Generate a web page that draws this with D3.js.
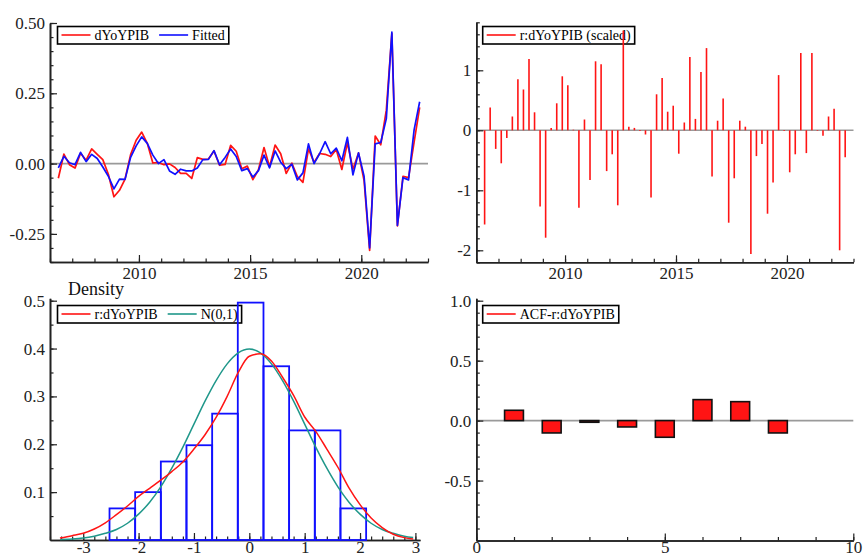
<!DOCTYPE html>
<html>
<head>
<meta charset="utf-8">
<script src="https://cdn.jsdelivr.net/npm/d3@7/dist/d3.min.js"></script>
<style>
  html, body { margin: 0; padding: 0; background: #fff; }
  svg { display: block; font-family: "Liberation Serif", "Times New Roman", serif; }
  svg text { font-family: "Liberation Serif", "Times New Roman", serif; }
</style>
</head>
<body>
<svg id="chart" width="864" height="558"></svg>
<script>
// ---------- data: quarterly sample 2006Q2 .. 2022Q3 ----------
const firstYear = 2006;
const firstQuarter = 2;

// change in year-on-year GDP growth
const actual = [
  -0.052, 0.034, -0.004, -0.016, 0.037, 0.012, 0.052, 0.033, 0.014, -0.038,
  -0.118, -0.095, -0.055, 0.032, 0.083, 0.112, 0.072, 0.002, 0.004, -0.004,
  -0.001, -0.014, -0.035, -0.035, -0.053, 0.021, 0.015, 0.016, 0.045, -0.006,
  -0.003, 0.065, 0.044, -0.018, -0.009, -0.057, -0.022, 0.057, -0.011, 0.066,
  0.035, -0.035, 0.002, -0.046, -0.067, 0.052, 0.004, 0.036, 0.033, 0.025,
  0.050, -0.021, 0.074, -0.020, 0.038, -0.060, -0.309, 0.098, 0.067, 0.190,
  0.462, -0.222, -0.045, -0.050, 0.076, 0.200
];

// fitted values of the model
const fitted = [
  -0.015, 0.026, 0.003, -0.004, 0.040, 0.007, 0.033, 0.018, -0.012, -0.045,
  -0.090, -0.055, -0.056, 0.022, 0.063, 0.095, 0.072, 0.030, 0.000, 0.014,
  -0.026, -0.038, -0.020, -0.026, -0.026, -0.016, 0.014, 0.015, 0.046, -0.004,
  0.022, 0.052, 0.025, -0.025, -0.018, -0.048, -0.025, 0.030, -0.015, 0.045,
  0.005, -0.018, -0.002, -0.058, -0.033, 0.070, 0.000, 0.035, 0.078, 0.035,
  0.055, 0.010, 0.093, -0.040, 0.038, -0.045, -0.300, 0.070, 0.075, 0.160,
  0.468, -0.220, -0.050, -0.058, 0.120, 0.220
];

// scaled residuals
const residScaled = [
  -1.57, 0.38, -0.31, -0.55, -0.13, 0.23, 0.85, 0.68, 1.19, 0.30,
  -1.27, -1.79, 0.04, 0.45, 0.90, 0.75, 0.01, -1.29, 0.18, -0.83,
  1.15, 1.10, -0.68, -0.40, -1.25, 1.66, 0.06, 0.04, -0.01, -0.07,
  -1.12, 0.60, 0.87, 0.31, 0.41, -0.39, 0.13, 1.22, 0.19, 0.97,
  1.37, -0.77, 0.16, 0.53, -1.54, -0.80, 0.16, 0.06, -2.06, -0.43,
  -0.23, -1.39, -0.87, 0.92, -0.01, -0.70, -0.40, 1.29, -0.38, 1.29,
  -0.01, -0.09, 0.23, 0.36, -2.00, -0.45
];

// histogram of residuals (density scale)
const histEdges = [-2.525, -2.062, -1.598, -1.135, -0.671, -0.208, 0.256, 0.719, 1.183, 1.646, 2.110];
const histDensity = [0.066, 0.100, 0.164, 0.198, 0.264, 0.496, 0.363, 0.229, 0.229, 0.066];

// kernel density estimate of residuals
const kernelX = [-3.42, -3.2, -3.0, -2.8, -2.6, -2.4, -2.2, -2.0, -1.8, -1.6, -1.4, -1.2, -1.0, -0.8, -0.6, -0.4, -0.2,
  0.0, 0.2, 0.4, 0.6, 0.8, 1.0, 1.2, 1.4, 1.6, 1.8, 2.0, 2.2, 2.4, 2.6, 2.8, 2.96];
const kernelY = [0.004, 0.009, 0.014, 0.023, 0.036, 0.053, 0.071, 0.091, 0.108, 0.125, 0.143, 0.163, 0.190, 0.220, 0.256, 0.300, 0.350,
  0.384, 0.389, 0.374, 0.340, 0.302, 0.257, 0.227, 0.190, 0.152, 0.109, 0.074, 0.046, 0.026, 0.012, 0.005, 0.002];

// reference N(0,1) density
const normalX = [-3.42, -3.2, -3.0, -2.8, -2.6, -2.4, -2.2, -2.0, -1.8, -1.6, -1.4, -1.2, -1.0, -0.8, -0.6, -0.4, -0.2,
  0.0, 0.2, 0.4, 0.6, 0.8, 1.0, 1.2, 1.4, 1.6, 1.8, 2.0, 2.2, 2.4, 2.6, 2.8, 2.96];
const normalY = [0.001, 0.002, 0.004, 0.008, 0.014, 0.022, 0.035, 0.054, 0.079, 0.111, 0.150, 0.194, 0.242, 0.290, 0.333, 0.368, 0.391,
  0.399, 0.391, 0.368, 0.333, 0.290, 0.242, 0.194, 0.150, 0.111, 0.079, 0.054, 0.035, 0.022, 0.014, 0.008, 0.005];

// autocorrelation of residuals
const acfLags = [1, 2, 3, 4, 5, 6, 7, 8];
const acfValues = [0.086, -0.103, -0.014, -0.053, -0.139, 0.175, 0.158, -0.103];

// tick values
const yearMajor = [2010, 2015, 2020];
const yearMinor = d3.range(2006, 2024, 1);
const tlMajor = [-0.25, 0, 0.25, 0.5];
const trMajor = [-2, -1, 0, 1];
const blXMajor = [-3, -2, -1, 0, 1, 2, 3];
const blYMajor = [0.1, 0.2, 0.3, 0.4, 0.5];
const brXMajor = [0, 5, 10];
const brYMajor = [-0.5, 0, 0.5, 1.0];

// ---------- styling ----------
const RED = "#ff1414", BLUE = "#1010ff", TEAL = "#1f978a", AXIS = "#222", ZERO = "#9a9a9a";
const SERIF = "Liberation Serif, Times New Roman, serif";
const TICK_FONT = 17, LEGEND_FONT = 14;

const svg = d3.select("#chart");
const quarterPos = actual.map((_, i) => {
  const q = firstQuarter - 1 + i;
  return firstYear + Math.floor(q / 4) + ((q % 4) + 0.5) / 4;
});

// axes with inward ticks: long at majors, short at minors
function drawAxes(g, x, y, o) {
  const styleAxis = sel => {
    sel.attr("font-family", SERIF).attr("font-size", TICK_FONT);
    sel.select(".domain").attr("stroke", AXIS).attr("stroke-width", 1.6);
    sel.selectAll(".tick line").attr("stroke", AXIS).attr("stroke-width", 1.2);
    sel.selectAll("text").attr("fill", AXIS).style("font-family", SERIF).style("font-size", TICK_FONT + "px");
  };
  const y0 = y.range()[0], x0 = x.range()[0];
  g.append("g").attr("transform", `translate(0,${y0})`)
    .call(d3.axisBottom(x).tickValues(o.xMinor).tickSize(-3.5).tickSizeOuter(0).tickFormat(""))
    .call(styleAxis);
  g.append("g").attr("transform", `translate(0,${y0})`)
    .call(d3.axisBottom(x).tickValues(o.xMajor).tickSize(-7).tickSizeOuter(0).tickPadding(o.xPad).tickFormat(o.xFmt))
    .call(styleAxis);
  g.append("g").attr("transform", `translate(${x0},0)`)
    .call(d3.axisLeft(y).tickValues(o.yMinor).tickSize(-3.5).tickSizeOuter(0).tickFormat(""))
    .call(styleAxis);
  g.append("g").attr("transform", `translate(${x0},0)`)
    .call(d3.axisLeft(y).tickValues(o.yMajor).tickSize(-7).tickSizeOuter(0).tickPadding(5).tickFormat(o.yFmt))
    .call(styleAxis);
}

function zeroLine(g, x, y) {
  g.append("line")
    .attr("x1", x.range()[0]).attr("x2", x.range()[1])
    .attr("y1", y(0)).attr("y2", y(0))
    .attr("stroke", ZERO).attr("stroke-width", 1.6);
}

function legend(g, left, top, items) {
  const box = g.append("rect").attr("x", left).attr("y", top).attr("height", 17.5)
    .attr("fill", "#fff").attr("stroke", "#000").attr("stroke-width", 1.6);
  let cx = left + 4;
  items.forEach((it, k) => {
    if (k > 0) cx += 10;
    g.append("line").attr("x1", cx).attr("x2", cx + 29)
      .attr("y1", top + 8.5).attr("y2", top + 8.5)
      .attr("stroke", it.color).attr("stroke-width", 1.6);
    cx += 33;
    const t = g.append("text").attr("x", cx).attr("y", top + 13.5)
      .style("font-family", SERIF).style("font-size", LEGEND_FONT + "px")
      .attr("fill", "#000").text(it.label);
    cx += t.node().getComputedTextLength();
  });
  box.attr("width", cx + 4 - left);
}

const fmt2 = d3.format(".2f"), fmt1 = d3.format(".1f");
const minus = s => s.replace("−", "-");

// ---------- panel 1: actual vs fitted ----------
{
  const g = svg.append("g");
  const x = d3.scaleLinear().domain([2006, 2023]).range([50, 428]);
  const y = d3.scaleLinear().domain([-0.35, 0.5]).range([262, 23]);
  zeroLine(g, x, y);
  drawAxes(g, x, y, {
    xMajor: yearMajor, xMinor: yearMinor, xFmt: d3.format("d"), xPad: 5,
    yMajor: tlMajor, yMinor: d3.range(-0.35, 0.5001, 0.05), yFmt: d => minus(fmt2(d))
  });
  legend(g, 57.5, 26.5, [{ label: "dYoYPIB", color: RED }, { label: "Fitted", color: BLUE }]);
  const line = arr => d3.line().x((_, i) => x(quarterPos[i])).y(d => y(d))(arr);
  g.append("path").attr("d", line(actual)).attr("fill", "none")
    .attr("stroke", RED).attr("stroke-width", 1.7).attr("stroke-linejoin", "round");
  g.append("path").attr("d", line(fitted)).attr("fill", "none")
    .attr("stroke", BLUE).attr("stroke-width", 1.7).attr("stroke-linejoin", "round");
}

// ---------- panel 2: scaled residuals ----------
{
  const g = svg.append("g");
  const x = d3.scaleLinear().domain([2006, 2023]).range([476.3, 853.5]);
  const y = d3.scaleLinear().domain([-2.2, 1.8]).range([262.3, 22.3]);
  zeroLine(g, x, y);
  drawAxes(g, x, y, {
    xMajor: yearMajor, xMinor: yearMinor, xFmt: d3.format("d"), xPad: 5,
    yMajor: trMajor, yMinor: d3.range(-2.2, 1.8001, 0.2), yFmt: d => minus(d3.format("d")(d))
  });
  legend(g, 482.7, 26.5, [{ label: "r:dYoYPIB (scaled)", color: RED }]);
  g.selectAll("line.spike").data(residScaled).join("line").attr("class", "spike")
    .attr("x1", (_, i) => x(quarterPos[i])).attr("x2", (_, i) => x(quarterPos[i]))
    .attr("y1", y(0)).attr("y2", d => y(d))
    .attr("stroke", RED).attr("stroke-width", 1.6);
}

// ---------- panel 3: residual density ----------
{
  const g = svg.append("g");
  const x = d3.scaleLinear().domain([-3.6, 3.083]).range([50, 420]);
  const y = d3.scaleLinear().domain([0, 0.505]).range([540, 298.3]);
  drawAxes(g, x, y, {
    xMajor: blXMajor, xMinor: d3.range(-3.6, 3.0801, 0.2), xFmt: d => minus(d3.format("d")(d)), xPad: 1,
    yMajor: blYMajor, yMinor: d3.range(0.05, 0.5001, 0.05), yFmt: d => fmt1(d)
  });
  g.append("text").attr("x", 68).attr("y", 294.5)
    .style("font-family", SERIF).style("font-size", "18px").attr("fill", "#111").text("Density");
  legend(g, 57.5, 305.5, [{ label: "r:dYoYPIB", color: RED }, { label: "N(0,1)", color: TEAL }]);
  const bins = histDensity.map((d, i) => ({ x0: histEdges[i], x1: histEdges[i + 1], d }));
  g.selectAll("rect.bin").data(bins).join("rect").attr("class", "bin")
    .attr("x", b => x(b.x0)).attr("width", b => x(b.x1) - x(b.x0))
    .attr("y", b => y(b.d)).attr("height", b => y(0) - y(b.d))
    .attr("fill", "none").attr("stroke", BLUE).attr("stroke-width", 1.8);
  const curve = (xs, ys) => d3.line().curve(d3.curveMonotoneX)
    .x((_, i) => x(xs[i])).y(d => y(d))(ys);
  g.append("path").attr("d", curve(normalX, normalY)).attr("fill", "none")
    .attr("stroke", TEAL).attr("stroke-width", 1.5);
  g.append("path").attr("d", curve(kernelX, kernelY)).attr("fill", "none")
    .attr("stroke", RED).attr("stroke-width", 1.5);
}

// ---------- panel 4: ACF of residuals ----------
{
  const g = svg.append("g");
  const x = d3.scaleLinear().domain([0, 10]).range([476.3, 853.3]);
  const y = d3.scaleLinear().domain([-1, 1.02]).range([540.5, 298.3]);
  zeroLine(g, x, y);
  drawAxes(g, x, y, {
    xMajor: brXMajor, xMinor: d3.range(0, 10.001, 1), xFmt: d3.format("d"), xPad: 0.5,
    yMajor: brYMajor, yMinor: d3.range(-1, 1.0001, 0.1), yFmt: d => minus(fmt1(d))
  });
  legend(g, 482.7, 305.5, [{ label: "ACF-r:dYoYPIB", color: RED }]);
  g.selectAll("rect.acf").data(acfValues).join("rect").attr("class", "acf")
    .attr("x", (_, i) => x(acfLags[i] - 0.25)).attr("width", (_, i) => x(acfLags[i] + 0.25) - x(acfLags[i] - 0.25))
    .attr("y", d => y(Math.max(0, d))).attr("height", d => Math.abs(y(d) - y(0)))
    .attr("fill", RED).attr("stroke", "#111").attr("stroke-width", 1.6);
}
</script>
</body>
</html>
